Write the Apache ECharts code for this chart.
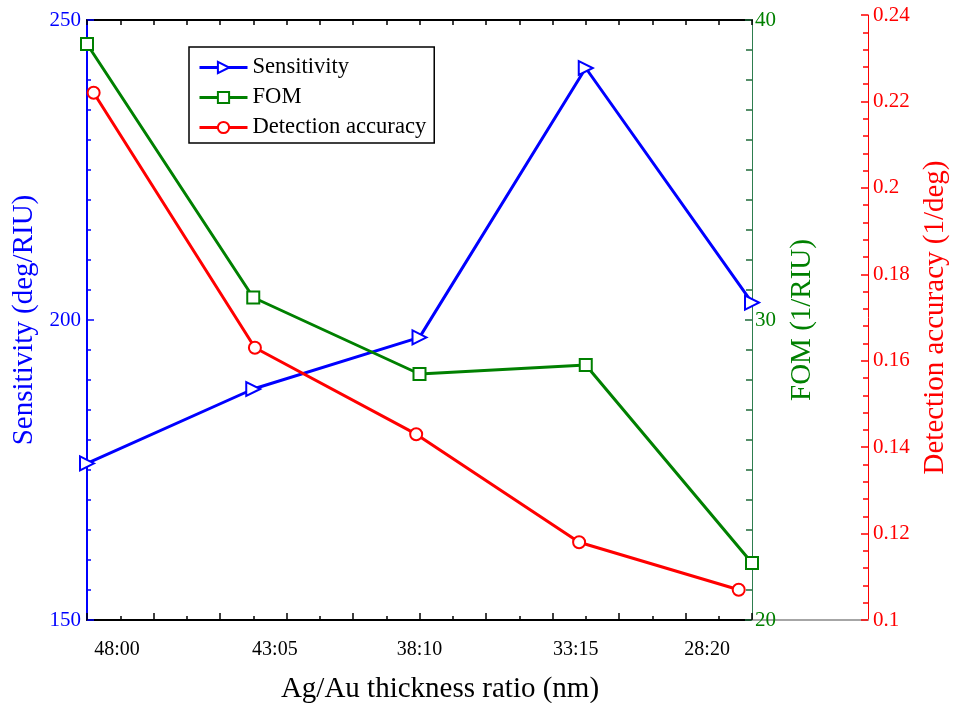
<!DOCTYPE html>
<html>
<head>
<meta charset="utf-8">
<script src="https://cdn.jsdelivr.net/npm/echarts@6/dist/echarts.min.js"></script>
<style>
  html, body { margin: 0; padding: 0; background: #fff; }
  #chart { width: 960px; height: 703px; }
</style>
</head>
<body>
<div id="chart"></div>
<script>
// Ag/Au thickness ratio categories and where their labels sit along the axis (axis units: 0..4)
const ratioLabels = ['48:00', '43:05', '38:10', '33:15', '28:20'];
const ratioLabelAt = [0.18, 1.13, 2.0, 2.94, 3.73];

// Sensitivity (deg/RIU)
const sensitivityX = [0, 1, 2, 3, 4];
const sensitivity = [176.1, 188.5, 197.1, 242.0, 202.9];

// Figure of merit (1/RIU)
const fomX = [0, 1, 2, 3, 4];
const fom = [39.2, 30.75, 28.2, 28.5, 21.9];

// Detection accuracy (1/deg)
const accuracyX = [0.04, 1.01, 1.98, 2.96, 3.92];
const accuracy = [0.222, 0.163, 0.143, 0.118, 0.107];

const FONT = "'Liberation Serif', 'Times New Roman', serif";
const BLUE = '#0000ff', GREEN = '#008000', RED = '#ff0000';

const pairs = (xs, ys) => xs.map((x, i) => [x, ys[i]]);

const chart = echarts.init(document.getElementById('chart'), null, { renderer: 'canvas' });

chart.setOption({
  backgroundColor: '#fff',
  animation: false,
  textStyle: { fontFamily: FONT },
  grid: [
    { left: 87, right: 208, top: 20, bottom: 83, containLabel: false, outerBoundsMode: 'none' },
    { left: 87, right: 208, top: 15, bottom: 83, containLabel: false, outerBoundsMode: 'none' },
    { left: 752, right: 92, top: 15, bottom: 83, containLabel: false, outerBoundsMode: 'none' }
  ],
  legend: {
    orient: 'vertical',
    left: 189,
    top: 47,
    padding: [9, 8, 4, 9],
    itemWidth: 48,
    itemHeight: 14,
    itemGap: 7,
    borderColor: '#000',
    borderWidth: 1.5,
    backgroundColor: '#fff',
    lineStyle: { width: 3 },
    itemStyle: { borderWidth: 2.5 },
    textStyle: { fontFamily: FONT, fontSize: 22.6, color: '#000', lineHeight: 22 },
    data: ['Sensitivity', 'FOM', 'Detection accuracy']
  },
  xAxis: [
    {
      gridIndex: 0, type: 'value', position: 'bottom', min: 0, max: 4, interval: 0.4,
      axisLine: { show: true, onZero: false, lineStyle: { color: '#000', width: 2 } },
      axisTick: { show: true, inside: true, length: 7, lineStyle: { color: '#000', width: 1.5 } },
      minorTick: { show: true, splitNumber: 2, length: 4, lineStyle: { color: '#000', width: 1.5 } },
      splitLine: { show: false },
      axisLabel: {
        show: true, margin: 20, fontFamily: FONT, fontSize: 20, color: '#000',
        customValues: ratioLabelAt,
        formatter: v => {
          const i = ratioLabelAt.findIndex(p => Math.abs(p - v) < 1e-6);
          return i >= 0 ? ratioLabels[i] : '';
        }
      },
      name: 'Ag/Au thickness ratio (nm)',
      nameLocation: 'middle',
      nameGap: 55,
      nameTextStyle: { fontFamily: FONT, fontSize: 29, color: '#000', padding: [0, 0, 0, 41] }
    },
    {
      gridIndex: 0, type: 'value', position: 'top', min: 0, max: 4, interval: 0.2,
      axisLine: { show: true, onZero: false, lineStyle: { color: '#000', width: 2 } },
      axisTick: { show: true, inside: true, length: 5, lineStyle: { color: '#000', width: 1.5 } },
      axisLabel: { show: false },
      splitLine: { show: false }
    },
    {
      gridIndex: 1, type: 'value', min: 0, max: 4, show: false
    },
    {
      gridIndex: 2, type: 'value', min: 0, max: 1, position: 'bottom',
      axisLine: { show: true, onZero: false, lineStyle: { color: '#a6a6a6', width: 2 } },
      axisTick: { show: false },
      axisLabel: { show: false },
      splitLine: { show: false }
    }
  ],
  yAxis: [
    {
      gridIndex: 0, type: 'value', position: 'left', min: 150, max: 250, interval: 50,
      axisLine: { show: true, onZero: false, lineStyle: { color: BLUE, width: 2 } },
      axisTick: { show: true, inside: true, length: 7, lineStyle: { color: BLUE, width: 1.5 } },
      minorTick: { show: true, splitNumber: 10, length: 4, lineStyle: { color: BLUE, width: 1.5 } },
      splitLine: { show: false },
      axisLabel: { margin: 6, fontFamily: FONT, fontSize: 21, color: BLUE },
      name: 'Sensitivity (deg/RIU)',
      nameLocation: 'middle',
      nameRotate: 90,
      nameGap: 45,
      nameTextStyle: { fontFamily: FONT, fontSize: 29, color: BLUE }
    },
    {
      gridIndex: 0, type: 'value', position: 'right', min: 20, max: 40, interval: 10,
      axisLine: { show: true, onZero: false, lineStyle: { color: '#2e7d4f', width: 1 } },
      axisTick: { show: true, inside: true, length: 7, lineStyle: { color: '#1f6b3a', width: 1.5 } },
      minorTick: { show: true, splitNumber: 10, length: 6, lineStyle: { color: '#1f6b3a', width: 1.5 } },
      splitLine: { show: false },
      axisLabel: { margin: 3, fontFamily: FONT, fontSize: 21, color: GREEN },
      name: 'FOM (1/RIU)',
      nameLocation: 'middle',
      nameRotate: 90,
      nameGap: 36,
      nameTextStyle: { fontFamily: FONT, fontSize: 29, color: GREEN }
    },
    {
      gridIndex: 1, type: 'value', position: 'right', offset: 116, min: 0.1, max: 0.24, interval: 0.02,
      axisLine: { show: true, onZero: false, lineStyle: { color: RED, width: 1 } },
      axisTick: { show: true, inside: true, length: 7, lineStyle: { color: RED, width: 1.5 } },
      minorTick: { show: true, splitNumber: 5, length: 5, lineStyle: { color: RED, width: 1.5 } },
      splitLine: { show: false },
      axisLabel: { margin: 5, fontFamily: FONT, fontSize: 21, color: RED },
      name: 'Detection accuracy (1/deg)',
      nameLocation: 'middle',
      nameRotate: 90,
      nameGap: 50,
      nameTextStyle: { fontFamily: FONT, fontSize: 29, color: RED }
    },
    {
      gridIndex: 2, type: 'value', min: 0, max: 1, show: false
    }
  ],
  series: [
    {
      name: 'Sensitivity', type: 'line', xAxisIndex: 0, yAxisIndex: 0,
      data: pairs(sensitivityX, sensitivity),
      symbol: 'emptyTriangle', symbolRotate: -90, symbolSize: 14,
      lineStyle: { color: BLUE, width: 3 },
      itemStyle: { color: BLUE, borderColor: BLUE, borderWidth: 3 },
      clip: false
    },
    {
      name: 'FOM', type: 'line', xAxisIndex: 0, yAxisIndex: 1,
      data: pairs(fomX, fom),
      symbol: 'emptyRect', symbolSize: 12,
      lineStyle: { color: GREEN, width: 3 },
      itemStyle: { color: GREEN, borderColor: GREEN, borderWidth: 3 },
      clip: false
    },
    {
      name: 'Detection accuracy', type: 'line', xAxisIndex: 2, yAxisIndex: 2,
      data: pairs(accuracyX, accuracy),
      symbol: 'emptyCircle', symbolSize: 12,
      lineStyle: { color: RED, width: 3 },
      itemStyle: { color: RED, borderColor: RED, borderWidth: 3 },
      clip: false
    }
  ]
});
</script>
</body>
</html>
